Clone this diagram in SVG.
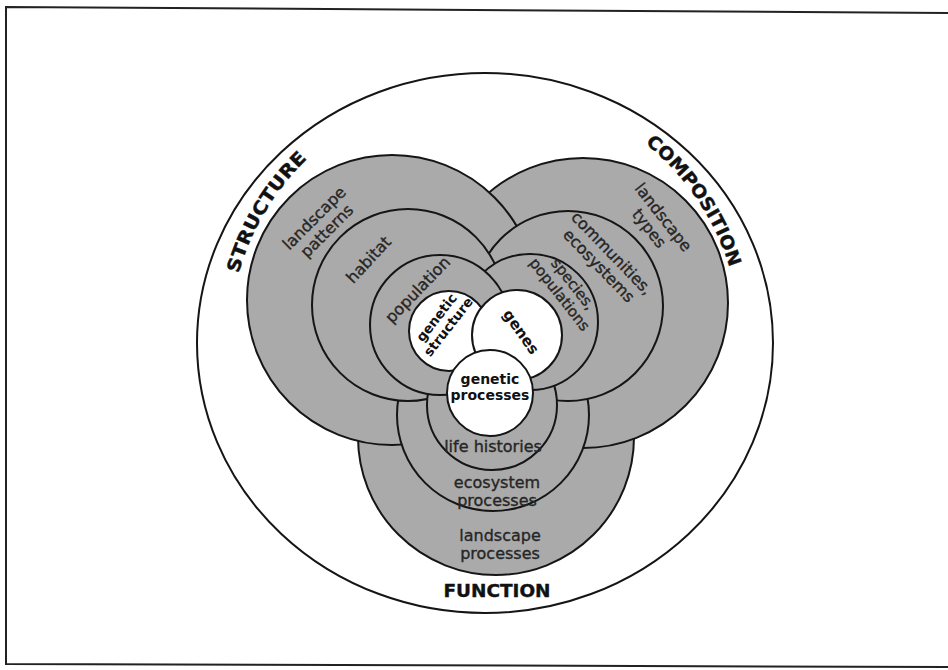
<svg xmlns="http://www.w3.org/2000/svg" width="948" height="670" viewBox="0 0 948 670">
<style>
.ring{fill:#aaaaaa;stroke:#151515;stroke-width:2}
.core{fill:#ffffff;stroke:#151515;stroke-width:2}
.lbl{font-family:"DejaVu Sans","Liberation Sans",Arial,sans-serif;font-size:16px;fill:#262626;stroke:#262626;stroke-width:0.35;text-anchor:middle}
.core-lbl{font-family:"DejaVu Sans","Liberation Sans",Arial,sans-serif;font-size:14px;font-weight:bold;fill:#111;text-anchor:middle}
.title{font-family:"DejaVu Sans","Liberation Sans",Arial,sans-serif;font-size:18px;font-weight:bold;fill:#111;stroke:#111;stroke-width:0.4;text-anchor:middle}
</style>
<defs>
<path id="arc" d="M229,343 A256,256 0 0,1 741,343 A256,256 0 0,1 229,343"/>
</defs>
<rect width="948" height="670" fill="#ffffff"/>
<g id="frame" fill="none" stroke="#222" stroke-width="2">
<path d="M948,13 L6,7 L6,664 L948,667"/>
</g>
<g id="outer">
<ellipse cx="485" cy="343" rx="288" ry="270" fill="none" stroke="#151515" stroke-width="2"/>
</g>
<g id="rings">
<g id="function-landscape"><circle class="ring" cx="496" cy="437" r="138"/></g>
<g id="composition-landscape"><circle class="ring" cx="583" cy="303" r="145"/></g>
<g id="structure-landscape"><circle class="ring" cx="392" cy="300" r="145"/></g>
<g id="function-ecosystem"><circle class="ring" cx="493" cy="415" r="96"/></g>
<g id="composition-communities"><circle class="ring" cx="568" cy="306" r="95"/></g>
<g id="structure-habitat"><circle class="ring" cx="408" cy="305" r="96"/></g>
<g id="function-life"><circle class="ring" cx="492" cy="405" r="65"/></g>
<g id="composition-species"><circle class="ring" cx="530" cy="322" r="68"/></g>
<g id="structure-population"><circle class="ring" cx="440" cy="325" r="70"/></g>
<g id="genetic-structure"><circle class="core" cx="449" cy="331" r="40"/></g>
<g id="genes"><circle class="core" cx="517" cy="335" r="45"/></g>
<g id="genetic-processes"><circle class="core" cx="490" cy="393" r="43"/></g>
</g>
<g id="labels">
<text class="title"><textPath href="#arc" startOffset="138" textLength="135" lengthAdjust="spacingAndGlyphs">STRUCTURE</textPath></text>
<text class="title"><textPath href="#arc" startOffset="651" textLength="152" lengthAdjust="spacingAndGlyphs">COMPOSITION</textPath></text>
<text class="title" x="497" y="597" textLength="107" lengthAdjust="spacingAndGlyphs">FUNCTION</text>

<text class="lbl" transform="translate(314.5,218.5) rotate(-45)"><tspan x="0" y="5">landscape</tspan><tspan x="0" y="23">patterns</tspan></text>
<text class="lbl" transform="translate(369,260) rotate(-47)"><tspan x="0" y="5">habitat</tspan></text>
<text class="lbl" transform="translate(418,290) rotate(-46)"><tspan x="0" y="5">population</tspan></text>
<text class="core-lbl" style="font-size:13.5px" transform="translate(437,318) rotate(-52)"><tspan x="0" y="4">genetic</tspan><tspan x="0" y="19">structure</tspan></text>

<text class="lbl" transform="translate(663,217.5) rotate(52)"><tspan x="0" y="5">landscape</tspan><tspan x="0" y="23">types</tspan></text>
<text class="lbl" transform="translate(611.5,253.5) rotate(46)"><tspan x="0" y="5">communities,</tspan><tspan x="0" y="23">ecosystems</tspan></text>
<text class="lbl" style="font-size:15px" transform="translate(573,284) rotate(52)"><tspan x="0" y="5">species,</tspan><tspan x="0" y="22">populations</tspan></text>
<text class="core-lbl" style="font-size:15px" transform="translate(521,332) rotate(55)"><tspan x="0" y="5">genes</tspan></text>

<text class="core-lbl"><tspan x="490" y="384">genetic</tspan><tspan x="490" y="400">processes</tspan></text>
<text class="lbl" x="493" y="452">life histories</text>
<text class="lbl"><tspan x="497" y="488">ecosystem</tspan><tspan x="497" y="506">processes</tspan></text>
<text class="lbl"><tspan x="500" y="541">landscape</tspan><tspan x="500" y="559">processes</tspan></text>
</g>
</svg>
